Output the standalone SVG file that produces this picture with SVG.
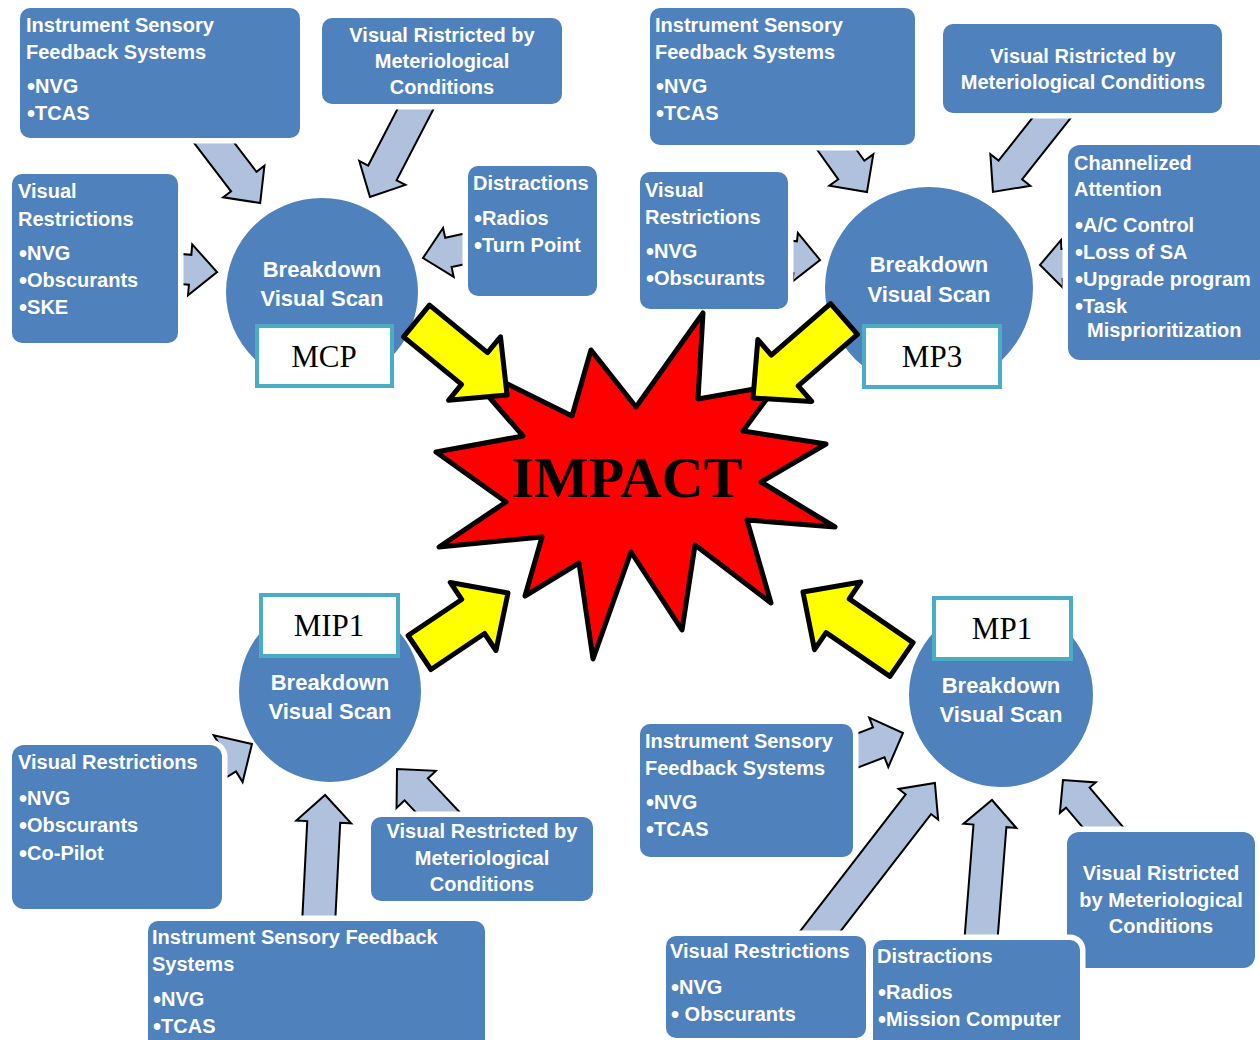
<svg xmlns="http://www.w3.org/2000/svg" width="1260" height="1040" viewBox="0 0 1260 1040">
<style>
.box{fill:#4F81BD;stroke:#FFFFFF;stroke-width:11;paint-order:stroke}
.circ{fill:#4F81BD}
.lbl{fill:#FFFFFF;stroke:#4BACC6;stroke-width:4}
.t{font-family:"Liberation Sans",Arial,sans-serif;font-weight:bold;font-size:20px;fill:#FFFFFF}
.b{font-size:23px;baseline-shift:-1.5px}
.c{text-anchor:middle}
.ct{font-family:"Liberation Sans",Arial,sans-serif;font-weight:bold;font-size:22px;fill:#FFFFFF;text-anchor:middle}
.lt{font-family:"Liberation Serif","Times New Roman",serif;font-size:31px;fill:#000000;text-anchor:middle}
.ba{fill:#B0C1DD;stroke:#000000;stroke-width:2;stroke-linejoin:miter}
.ya{fill:#FFFF00;stroke:#000000;stroke-width:5;stroke-linejoin:round}
.burst{fill:#FF0000;stroke:#000000;stroke-width:5;stroke-linejoin:round}
</style>

<g id="connectors">
  <!-- MCP -->
  <path class="ba" transform="translate(202.9,128.1) rotate(52.6)" d="M0,-16 L67.3,-16 L67.3,-26 L94.3,0 L67.3,26 L67.3,16 L0,16"/>
  <path class="ba" transform="translate(424.2,92.2) rotate(117.4)" d="M0,-16 L90.9,-16 L90.9,-26 L117.9,0 L90.9,26 L90.9,16 L0,16"/>
  <path class="ba" transform="translate(168,268) rotate(4.7)" d="M0,-15 L22.2,-15 L22.2,-25.5 L49.2,0 L22.2,25.5 L22.2,15 L0,15"/>
  <path class="ba" transform="translate(478,246) rotate(167.7)" d="M0,-15 L30.3,-15 L30.3,-25 L56.3,0 L30.3,25 L30.3,15 L0,15"/>
  <!-- MP3 -->
  <path class="ba" transform="translate(825.4,133.7) rotate(54.5)" d="M0,-16 L44.6,-16 L44.6,-27 L71.6,0 L44.6,27 L44.6,16 L0,16"/>
  <path class="ba" transform="translate(1062.4,104.3) rotate(128.4)" d="M0,-15 L83.8,-15 L83.8,-25.5 L111.8,0 L83.8,25.5 L83.8,15 L0,15"/>
  <path class="ba" transform="translate(775,255) rotate(6.3)" d="M0,-16 L20.3,-16 L20.3,-24.5 L45.3,0 L20.3,24.5 L20.3,16 L0,16"/>
  <path class="ba" transform="translate(1085,263) rotate(177.5)" d="M0,-15 L23,-15 L23,-24 L45,0 L23,24 L23,15 L0,15"/>
  <!-- MIP1 -->
  <path class="ba" transform="translate(205,773) rotate(-31.7)" d="M0,-15 L27.2,-15 L27.2,-27.5 L55.2,0 L27.2,27.5 L27.2,15 L0,15"/>
  <path class="ba" transform="translate(318,935) rotate(-87.1)" d="M0,-16.5 L113.2,-16.5 L113.2,-27.5 L140.2,0 L113.2,27.5 L113.2,16.5 L0,16.5"/>
  <path class="ba" transform="translate(454.2,829.7) rotate(-133.3)" d="M0,-16 L55.4,-16 L55.4,-27 L83.4,0 L55.4,27 L55.4,16 L0,16"/>
  <!-- MP1 -->
  <path class="ba" transform="translate(846,755) rotate(-21.1)" d="M0,-16 L35.1,-16 L35.1,-26.5 L61.1,0 L35.1,26.5 L35.1,16 L0,16"/>
  <path class="ba" transform="translate(802.8,953.8) rotate(-52.3)" d="M0,-16 L189,-16 L189,-25 L216,0 L189,25 L189,16 L0,16"/>
  <path class="ba" transform="translate(980,952) rotate(-85.5)" d="M0,-16.5 L126.5,-16.5 L126.5,-26.5 L152.5,0 L126.5,26.5 L126.5,16.5 L0,16.5"/>
  <path class="ba" transform="translate(1114.9,841.3) rotate(-130.3)" d="M0,-15.5 L57.3,-15.5 L57.3,-23.5 L80.3,0 L57.3,23.5 L57.3,15.5 L0,15.5"/>
</g>

<!-- MCP cluster -->
<g id="mcp-instrument">
  <rect class="box" x="20" y="8" width="280" height="130" rx="10"/>
  <text class="t" x="26" y="32">Instrument Sensory</text>
  <text class="t" x="26" y="59">Feedback Systems</text>
  <text class="t" x="27" y="93"><tspan class="b">•</tspan>NVG</text>
  <text class="t" x="27" y="120"><tspan class="b">•</tspan>TCAS</text>
</g>
<g id="mcp-meteo">
  <rect class="box" x="322" y="18" width="240" height="86" rx="10"/>
  <text class="t c" x="442" y="42">Visual Ristricted by</text>
  <text class="t c" x="442" y="68">Meteriological</text>
  <text class="t c" x="442" y="94">Conditions</text>
</g>
<g id="mcp-visual">
  <rect class="box" x="12" y="174" width="166" height="169" rx="10"/>
  <text class="t" x="18" y="198">Visual</text>
  <text class="t" x="18" y="226">Restrictions</text>
  <text class="t" x="19" y="260"><tspan class="b">•</tspan>NVG</text>
  <text class="t" x="19" y="287"><tspan class="b">•</tspan>Obscurants</text>
  <text class="t" x="19" y="314"><tspan class="b">•</tspan>SKE</text>
</g>
<g id="mcp-distractions">
  <rect class="box" x="468" y="166" width="129" height="130" rx="10"/>
  <text class="t" x="473" y="190">Distractions</text>
  <text class="t" x="474" y="225"><tspan class="b">•</tspan>Radios</text>
  <text class="t" x="474" y="252"><tspan class="b">•</tspan>Turn Point</text>
</g>

<!-- MP3 cluster -->
<g id="mp3-instrument">
  <rect class="box" x="650" y="8" width="265" height="137" rx="10"/>
  <text class="t" x="655" y="32">Instrument Sensory</text>
  <text class="t" x="655" y="59">Feedback Systems</text>
  <text class="t" x="656" y="93"><tspan class="b">•</tspan>NVG</text>
  <text class="t" x="656" y="120"><tspan class="b">•</tspan>TCAS</text>
</g>
<g id="mp3-meteo">
  <rect class="box" x="943" y="24" width="279" height="89" rx="10"/>
  <text class="t c" x="1083" y="63">Visual Ristricted by</text>
  <text class="t c" x="1083" y="89">Meteriological Conditions</text>
</g>
<g id="mp3-visual">
  <rect class="box" x="640" y="172" width="148" height="137" rx="10"/>
  <text class="t" x="645" y="197">Visual</text>
  <text class="t" x="645" y="224">Restrictions</text>
  <text class="t" x="646" y="258"><tspan class="b">•</tspan>NVG</text>
  <text class="t" x="646" y="285"><tspan class="b">•</tspan>Obscurants</text>
</g>
<g id="mp3-channelized">
  <rect class="box" x="1068" y="145" width="202" height="215" rx="12"/>
  <text class="t" x="1074" y="170">Channelized</text>
  <text class="t" x="1074" y="196">Attention</text>
  <text class="t" x="1075" y="232"><tspan class="b">•</tspan>A/C Control</text>
  <text class="t" x="1075" y="259"><tspan class="b">•</tspan>Loss of SA</text>
  <text class="t" x="1075" y="286"><tspan class="b">•</tspan>Upgrade program</text>
  <text class="t" x="1075" y="313"><tspan class="b">•</tspan>Task</text>
  <text class="t" x="1087" y="337">Misprioritization</text>
</g>

<!-- MIP1 cluster -->
<g id="mip1-visual">
  <rect class="box" x="12" y="745" width="210" height="164" rx="12"/>
  <text class="t" x="18" y="769">Visual Restrictions</text>
  <text class="t" x="19" y="805"><tspan class="b">•</tspan>NVG</text>
  <text class="t" x="19" y="832"><tspan class="b">•</tspan>Obscurants</text>
  <text class="t" x="19" y="860"><tspan class="b">•</tspan>Co-Pilot</text>
</g>
<g id="mip1-instrument">
  <rect class="box" x="148" y="921" width="337" height="130" rx="10"/>
  <text class="t" x="152" y="944">Instrument Sensory Feedback</text>
  <text class="t" x="152" y="971">Systems</text>
  <text class="t" x="153" y="1006"><tspan class="b">•</tspan>NVG</text>
  <text class="t" x="153" y="1033"><tspan class="b">•</tspan>TCAS</text>
</g>
<g id="mip1-meteo">
  <rect class="box" x="371" y="817" width="222" height="84" rx="10"/>
  <text class="t c" x="482" y="838">Visual Restricted by</text>
  <text class="t c" x="482" y="865">Meteriological</text>
  <text class="t c" x="482" y="891">Conditions</text>
</g>

<!-- MP1 cluster -->
<g id="mp1-instrument">
  <rect class="box" x="640" y="724" width="213" height="133" rx="10"/>
  <text class="t" x="645" y="748">Instrument Sensory</text>
  <text class="t" x="645" y="775">Feedback Systems</text>
  <text class="t" x="646" y="809"><tspan class="b">•</tspan>NVG</text>
  <text class="t" x="646" y="836"><tspan class="b">•</tspan>TCAS</text>
</g>
<g id="mp1-meteo">
  <rect class="box" x="1067" y="832" width="188" height="136" rx="12"/>
  <text class="t c" x="1161" y="880">Visual Ristricted</text>
  <text class="t c" x="1161" y="907">by Meteriological</text>
  <text class="t c" x="1161" y="933">Conditions</text>
</g>
<g id="mp1-visual">
  <rect class="box" x="666" y="936" width="200" height="102" rx="10"/>
  <text class="t" x="670" y="958">Visual Restrictions</text>
  <text class="t" x="671" y="994"><tspan class="b">•</tspan>NVG</text>
  <text class="t" x="671" y="1021"><tspan class="b">•</tspan> Obscurants</text>
</g>
<g id="mp1-distractions">
  <rect class="box" x="873" y="940" width="207" height="110" rx="10"/>
  <text class="t" x="877" y="963">Distractions</text>
  <text class="t" x="878" y="999"><tspan class="b">•</tspan>Radios</text>
  <text class="t" x="878" y="1026"><tspan class="b">•</tspan>Mission Computer</text>
</g>

<!-- Scan circles with labels -->
<g id="mcp-scan">
  <ellipse class="circ" cx="322" cy="292" rx="96" ry="94"/>
  <text class="ct" x="322" y="277">Breakdown</text>
  <text class="ct" x="322" y="306">Visual Scan</text>
  <rect class="lbl" x="257" y="326" width="135" height="60"/>
  <text class="lt" x="324" y="367">MCP</text>
</g>
<g id="mp3-scan">
  <ellipse class="circ" cx="929" cy="288" rx="104" ry="101"/>
  <text class="ct" x="929" y="272">Breakdown</text>
  <text class="ct" x="929" y="302">Visual Scan</text>
  <rect class="lbl" x="864" y="326" width="136" height="61"/>
  <text class="lt" x="932" y="367">MP3</text>
</g>
<g id="mip1-scan">
  <circle class="circ" cx="330" cy="691" r="91"/>
  <text class="ct" x="330" y="690">Breakdown</text>
  <text class="ct" x="330" y="719">Visual Scan</text>
  <rect class="lbl" x="261" y="595" width="137" height="61"/>
  <text class="lt" x="329" y="636">MIP1</text>
</g>
<g id="mp1-scan">
  <circle class="circ" cx="1001" cy="695" r="92"/>
  <text class="ct" x="1001" y="693">Breakdown</text>
  <text class="ct" x="1001" y="722">Visual Scan</text>
  <rect class="lbl" x="934" y="598" width="137" height="61"/>
  <text class="lt" x="1002" y="639">MP1</text>
</g>

<!-- Central impact -->
<g id="impact">
  <polygon class="burst" points="703,313 698,399 777,385 743,431 826,444 761,482 835,527 747,520 771,603 695,545 682,630 631,552 593,659 579,563 525,596 542,537 439,547 506,502 436,452 523,436 455,358 572,416 591,350 636,407"/>
  <text x="627" y="497" font-family="'Liberation Serif','Times New Roman',serif" font-weight="bold" font-size="58" fill="#000000" text-anchor="middle">IMPACT</text>
</g>

<g id="impact-arrows">
  <path class="ya" transform="translate(416.5,321) rotate(39.3)" d="M0,-20.5 L75,-20.5 L75,-41 L117,0 L75,41 L75,20.5 L0,20.5 Z"/>
  <path class="ya" transform="translate(844,319) rotate(139)" d="M0,-20.5 L78.5,-20.5 L78.5,-41 L120.5,0 L78.5,41 L78.5,20.5 L0,20.5 Z"/>
  <path class="ya" transform="translate(419.5,652.5) rotate(-33.9)" d="M0,-20.5 L64.6,-20.5 L64.6,-41 L106.6,0 L64.6,41 L64.6,20.5 L0,20.5 Z"/>
  <path class="ya" transform="translate(901.5,659.5) rotate(-145.6)" d="M0,-20.5 L77.4,-20.5 L77.4,-41 L119.4,0 L77.4,41 L77.4,20.5 L0,20.5 Z"/>
</g>
</svg>
